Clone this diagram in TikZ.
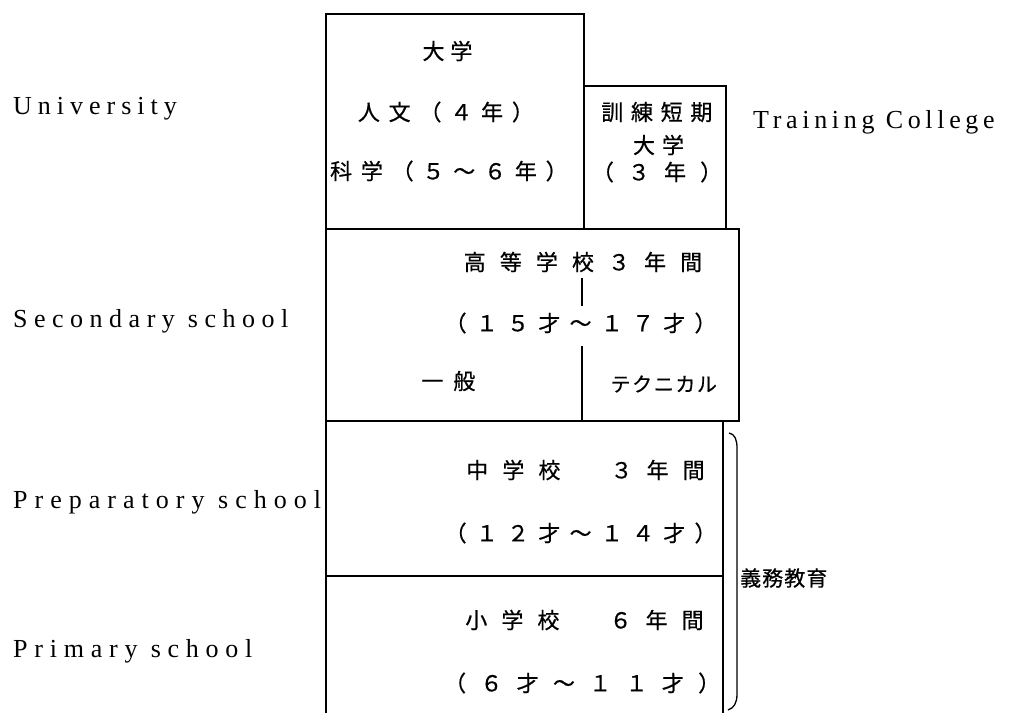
\documentclass[tikz,border=0pt]{standalone}
\usepackage{fontspec}
\setmainfont{Liberation Serif}
\newfontfamily\jp{Noto Sans CJK JP}[FakeBold=0.6]
\tikzset{
  frame/.style={line width=1.5pt, black},
  en/.style={font=\fontsize{26}{30}\selectfont\addfontfeatures{LetterSpace=#1}, anchor=base west, inner sep=0pt},
  ja/.style={font=\jp\fontsize{22}{26}\selectfont\addfontfeatures{LetterSpace=#1}, inner sep=0pt, xshift=#1*0.11pt},
  jak/.style={font=\jp\fontsize{20}{24}\selectfont\addfontfeatures{LetterSpace=#1}, inner sep=0pt, xshift=#1*0.1pt},
  jaw/.style={font=\jp\fontsize{21}{25}\selectfont\addfontfeatures{LetterSpace=#1}, inner sep=0pt, anchor=west}
}
\begin{document}
\begin{tikzpicture}[x=1pt,y=-1pt]
\useasboundingbox (0,0) rectangle (1013,713);
% coordinates of boxes
\coordinate (uniNW) at (326,14);
\coordinate (uniSE) at (584,229);
\coordinate (trNW) at (584,86);
\coordinate (trSE) at (726,229);
\coordinate (secNW) at (326,229);
\coordinate (secSE) at (739,421);
\coordinate (prepNW) at (326,421);
\coordinate (prepSE) at (723,576);
\coordinate (primBL) at (326,713);
\coordinate (primBR) at (723,713);
\coordinate (d1a) at (582,278);
\coordinate (d1b) at (582,306);
\coordinate (d2a) at (582,346);
\coordinate (d2b) at (582,421);
% boxes
\draw[frame] (uniNW) rectangle (uniSE);
\draw[frame] (trNW) rectangle (trSE);
\draw[frame] (secNW) rectangle (secSE);
\draw[frame] (prepNW) rectangle (prepSE);
\draw[frame] (prepNW |- prepSE) -- (primBL);
\draw[frame] (prepSE) -- (primBR);
\draw[frame] (d1a) -- (d1b);
\draw[frame] (d2a) -- (d2b);
% brace
\coordinate (brT) at (729,433);
\coordinate (brB) at (728,710);
\draw[frame, line width=1.3pt] (brT) .. controls (735,434) and (737,440) .. (737,448) -- (737,694) .. controls (737,703) and (734,708) .. (brB);
% left labels
\node[en=23] (lu) at (13,114) {University};
\node[en=25] (ls) at (13,327) {Secondary school};
\node[en=27] (lp) at (13,508) {Preparatory school};
\node[en=26] (lpr) at (13,657) {Primary school};
\node[en=18] (lt) at (753,128) {Training College};
% Japanese text
\node[ja=27] (u1) at (444.5,51) {大学};
\node[ja=40] (u2) at (441.5,112) {人文（４年）};
\node[ja=40] (u3) at (444.5,171) {科学（５～６年）};
\node[ja=35] (t1) at (653,112) {訓練短期};
\node[ja=32] (t2) at (655,145) {大学};
\node[ja=64] (t3) at (650,172) {（３年）};
\node[ja=64] (s1) at (576,262) {高等学校３年間};
\node[ja=42] (s2) at (576,323) {（１５才～１７才）};
\node[ja=45] (s3) at (443.5,381) {一般};
\node[jak=8] (s4) at (663,384) {テクニカル};
\node[ja=64] (p1) at (578.5,470) {中学校　３年間};
\node[ja=42] (p2) at (576,533) {（１２才～１４才）};
\node[ja=64] (q1) at (577.5,620) {小学校　６年間};
\node[ja=65] (q2) at (575,683) {（６才～１１才）};
\node[jaw=5] (gm) at (740,578) {義務教育};
\end{tikzpicture}
\end{document}
